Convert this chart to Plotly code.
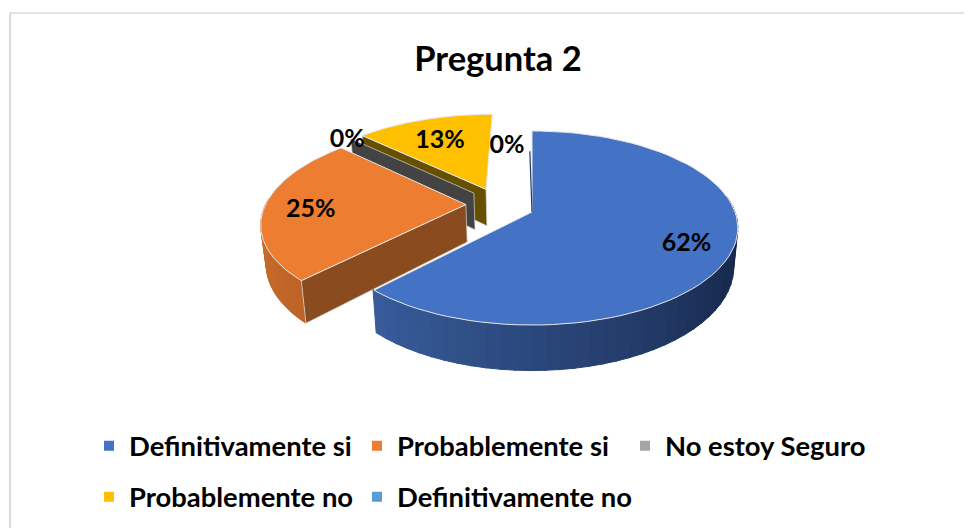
import numpy as np
import plotly.graph_objects as go

# datos del grafico
categorias = ['Definitivamente si', 'Probablemente si', 'No estoy Seguro', 'Probablemente no', 'Definitivamente no']
valores = [62, 25, 0, 13, 0]
colores = ['#4472C4', '#ED7D31', '#A5A5A5', '#FFC000', '#5B9BD5']

# la pagina deja 8px de margen, la figura empieza ahi
MARGEN = 8
ANCHO, ALTO = 972 - MARGEN, 528 - MARGEN

# proyeccion de la tarta (pixeles de la ventana)
CX, CY = 532, 212
RX, RY = 203, 94.4
PERSP = 0.165
GROSOR = 38
ESCALA_BASE = 0.98

# desplazamiento de cada porcion y radio de su etiqueta
EXPLOSION = [(0, 0), (-0.33, 0.08), (-0.296, 0.207), (-0.236, 0.25), (-0.14, 0)]
RADIO_ETIQUETA = [0.78, 0.77, 1.03, 0.72, 0.83]
ETIQUETA_DY = 4

# colores de las paredes
PARED_CORTE = {1: '#8A4B1E', 2: '#434343', 3: '#665000'}

# posicion de cada entrada de la leyenda (pixel donde empieza el texto y fila)
LEYENDA_X = [130, 398, 666, 130, 398]
LEYENDA_Y = [446, 446, 446, 497, 497]


def proyectar(X, Y, abajo=False):
    d = 1 + PERSP * np.asarray(Y, dtype=float)
    x = CX + RX * np.asarray(X, dtype=float) / d
    y = CY - RY * np.asarray(Y, dtype=float) / d
    if abajo:
        x = CX + (x - CX) * ESCALA_BASE
        y = y + GROSOR / d
    return x, y


def arco(i, a0, a1, n=80):
    t = np.radians(np.linspace(a0, a1, n))
    ox, oy = EXPLOSION[i]
    return ox + np.sin(t), oy + np.cos(t)


def poligono(x, y, color, linea=None, ancho=1):
    return go.Scatter(x=list(x), y=list(y), mode='lines', fill='toself', fillcolor=color,
                      line=dict(color=linea or color, width=ancho), showlegend=False, hoverinfo='skip')


def pared_corte(i, ang):
    ox, oy = EXPLOSION[i]
    a = np.radians(ang)
    X = np.array([ox, ox + np.sin(a)])
    Y = np.array([oy, oy + np.cos(a)])
    x1, y1 = proyectar(X, Y)
    x2, y2 = proyectar(X, Y, abajo=True)
    return poligono(np.r_[x1, x2[::-1], x1[0]], np.r_[y1, y2[::-1], y1[0]], PARED_CORTE[i], '#D9D9D9', 0.7)


def pared_arco(i, a0, a1, c0, c1, n=40, plano=0.0):
    # degradado hecho con tramos pequenos, 'plano' es la parte inicial sin cambio de color
    trazas = []
    bordes = np.linspace(a0, a1, n + 1)
    c0, c1 = np.array(c0), np.array(c1)
    for k in range(n):
        X, Y = arco(i, bordes[k], bordes[k + 1] + 0.4, 6)
        x1, y1 = proyectar(X, Y)
        x2, y2 = proyectar(X, Y, abajo=True)
        f = max(0.0, (k / (n - 1) - plano) / (1 - plano))
        c = c0 + (c1 - c0) * f
        col = 'rgb(%d,%d,%d)' % tuple(c)
        trazas.append(poligono(np.r_[x1, x2[::-1]], np.r_[y1, y2[::-1]], col))
    return trazas


def cara(i, a0, a1):
    X, Y = arco(i, a0, a1)
    ox, oy = EXPLOSION[i]
    X = np.r_[ox, X, ox]
    Y = np.r_[oy, Y, oy]
    x, y = proyectar(X, Y)
    return poligono(x, y, colores[i], '#E8E8E8', 1)


# angulos de inicio y fin de cada porcion
fin = np.cumsum(valores) * 3.6
inicio = np.r_[0, fin[:-1]]

fig = go.Figure()

# de atras hacia delante: amarillo, gris, naranja, azul
fig.add_trace(pared_corte(3, inicio[3]))
fig.add_trace(cara(3, inicio[3], fin[3]))
fig.add_trace(pared_corte(2, inicio[2]))
fig.add_traces(pared_arco(1, inicio[1], inicio[1] + 50, (190, 100, 38), (205, 112, 48)))
fig.add_trace(pared_corte(1, inicio[1]))
fig.add_trace(cara(1, inicio[1], fin[1]))
fig.add_traces(pared_arco(0, 80, fin[0], (24, 42, 78), (56, 92, 155), plano=0.25))
fig.add_trace(cara(0, inicio[0], fin[0]))

# filo oscuro del corte superior del azul
x_filo, y_filo = proyectar([0, -0.012], [0, 0.72])
fig.add_trace(go.Scatter(x=x_filo, y=y_filo, mode='lines', line=dict(color='#1F3864', width=1.2),
                         showlegend=False, hoverinfo='skip'))

# etiquetas de porcentaje
etq_x, etq_y = [], []
for i in range(len(valores)):
    medio = np.radians((inicio[i] + fin[i]) / 2)
    ox, oy = EXPLOSION[i]
    px, py = proyectar(ox + RADIO_ETIQUETA[i] * np.sin(medio), oy + RADIO_ETIQUETA[i] * np.cos(medio))
    etq_x.append(float(px))
    etq_y.append(float(py) + ETIQUETA_DY)
fig.add_trace(go.Scatter(x=etq_x, y=etq_y, mode='text', text=[f'{v}%' for v in valores],
                         textfont=dict(family='Lato', size=25, color='black', weight='bold'),
                         textposition='middle center', showlegend=False, hoverinfo='skip'))

# una leyenda por entrada, asi cada una queda donde toca
leyendas = {}
for i, nombre in enumerate(categorias):
    clave = 'legend' if i == 0 else f'legend{i + 1}'
    fig.add_trace(go.Scatter(x=[None], y=[None], mode='markers', name=nombre,
                             marker=dict(symbol='square', size=10, color=colores[i]),
                             legend=clave))
    leyendas[clave] = dict(orientation='h', xanchor='left', yanchor='middle',
                           x=(LEYENDA_X[i] - 41 - MARGEN) / ANCHO,
                           y=1 - (LEYENDA_Y[i] - MARGEN) / ALTO,
                           font=dict(family='Lato', size=27.4, color='black', weight='bold'),
                           itemwidth=30, bgcolor='rgba(0,0,0,0)',
                           itemclick=False, itemdoubleclick=False)

fig.update_layout(
    width=ANCHO, height=ALTO,
    margin=dict(l=0, r=0, t=0, b=0),
    autosize=False,
    paper_bgcolor='white', plot_bgcolor='white',
    xaxis=dict(range=[MARGEN, 972], visible=False, fixedrange=True),
    yaxis=dict(range=[528, MARGEN], visible=False, fixedrange=True),
    title=dict(text='<b>Pregunta 2</b>', x=(498 - MARGEN) / ANCHO, y=1 - (59 - MARGEN) / ALTO,
               xanchor='center', yanchor='middle',
               font=dict(family='Lato', size=34.5, color='black')),
    shapes=[
        dict(type='line', xref='x', yref='y', x0=10, y0=13, x1=972, y1=13, line=dict(color='#D9D9D9', width=1.5)),
        dict(type='line', xref='x', yref='y', x0=10, y0=13, x1=10, y1=528, line=dict(color='#D9D9D9', width=2)),
    ],
    **leyendas,
)

fig.write_html("out.html")
